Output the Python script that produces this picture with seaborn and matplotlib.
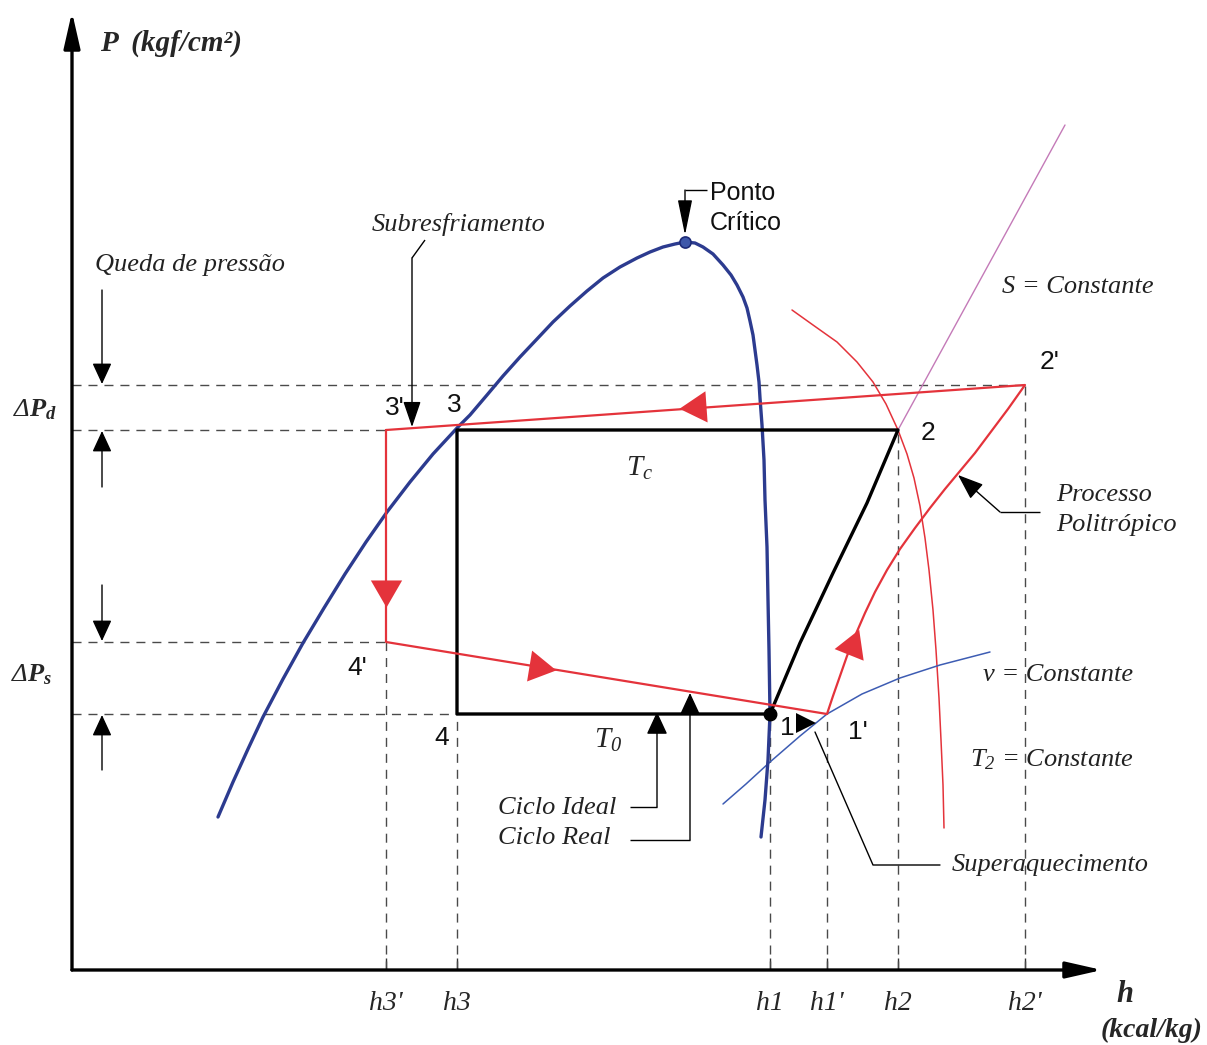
import numpy as np
import matplotlib
matplotlib.use("Agg")
import matplotlib.pyplot as plt
import seaborn as sns

# ---------------- data (h in kcal/kg scale units, P in kgf/cm2 scale units) ----------------
h_labels = ["h3'", "h3", "h1", "h1'", "h2", "h2'"]
h_ticks = [314, 385, 698, 755, 826, 953]

P_discharge_real = 585   # 2'
P_condensing = 540       # 3, 2, 3'
P_suction_real = 328     # 4'
P_evaporating = 256      # 4, 1

# saturation dome (liquid branch -> critical point -> vapour branch)
dome_h = [146, 161, 176, 191, 211, 231, 252, 273, 294, 315, 338, 361, 386, 398, 415,
          431, 448, 465, 481, 498, 515, 531, 548, 565, 578, 591, 603, 613,
          623, 631, 641, 651, 659, 665, 671, 675, 678, 681, 683, 685, 687, 688, 690,
          692, 693, 695, 696, 697, 698, 696, 693, 689]
dome_P = [153, 188, 221, 253, 291, 327, 362, 396, 428, 458, 488, 516, 543, 555, 575,
          594, 613, 631, 648, 664, 679, 692, 703, 712, 718, 723, 726, 728,
          727, 723, 716, 705, 695, 685, 673, 662, 649, 635, 620, 605, 588, 572, 545,
          510, 470, 423, 370, 320, 256, 210, 170, 133]
critical_h, critical_P = 613, 728

# ideal cycle 1 -> 4 -> 3 -> 2 -> 1
ideal_h = [698, 385, 385, 826, 795, 761, 728, 698]
ideal_P = [256, 256, 540, 540, 467, 397, 327, 256]

# real cycle 3' -> 4' -> 1' -> 2' -> 3'
real_h = [314, 314, 755, 761, 768, 775, 783, 793, 803, 815, 828, 843, 858, 873, 888,
          903, 918, 936, 953, 314]
real_P = [540, 328, 256, 274, 294, 314, 334, 357, 378, 400, 421, 442, 462, 481, 499,
          517, 537, 561, 585, 540]

# flow-direction arrows sitting on the real cycle
flow_h = [625, 314, 466, 780]
flow_P = [563, 381, 303, 324]

# constant-property lines
s_const_h = [993, 826]
s_const_P = [845, 540]
v_const_h = [651, 674, 698, 728, 755, 790, 828, 868, 918]
v_const_P = [166, 186, 208, 234, 256, 276, 292, 305, 318]
t2_const_h = [720, 741, 765, 785, 801, 814, 826, 835, 842, 848, 853, 857, 861, 864,
              867, 869, 871, 872]
t2_const_P = [660, 645, 628, 608, 588, 566, 540, 516, 492, 464, 432, 400, 360, 320,
              272, 230, 185, 142]

# ---------------- styling ----------------
sns.set_theme(style="white")
plt.rcParams["font.family"] = ["Liberation Serif", "DejaVu Serif"]
plt.rcParams["mathtext.fontset"] = "custom"
plt.rcParams["mathtext.rm"] = "Liberation Serif:italic"
plt.rcParams["mathtext.it"] = "Liberation Serif:italic"
plt.rcParams["mathtext.bf"] = "Liberation Serif:italic:bold"

BLUE = "#2c3b8f"
BLUE_THIN = "#3d5cb3"
RED = "#e4333b"
PURPLE = "#c47ab8"
GUIDE = "#4a4a4a"
SERIF = ["Liberation Serif", "DejaVu Serif"]
SANS = ["Liberation Sans", "DejaVu Sans"]

fig = plt.figure(figsize=(12.07, 10.45), dpi=100)
ax = fig.add_axes([0, 0, 1, 1])
ax.set_xlim(-72, 1135)
ax.set_ylim(-75, 970)
for sp in ax.spines.values():
    sp.set_visible(False)
ax.spines["bottom"].set_position(("data", 0))

# h axis ticks and labels
ax.set_xticks(h_ticks, h_labels)
ax.tick_params(axis="x", direction="in", length=9, width=1, color="#333333",
               pad=15, labelsize=20, bottom=True)
for lbl in ax.get_xticklabels():
    lbl.set_fontstyle("italic")
    lbl.set_fontfamily(SERIF)
ax.set_yticks([])

# axes with arrow heads
ax.annotate("", xy=(0, 958), xytext=(0, 0),
            arrowprops=dict(arrowstyle="-|>,head_length=2.2,head_width=0.5",
                            mutation_scale=10, lw=2.4, color="black",
                            shrinkA=0, shrinkB=0))
ax.annotate("", xy=(1030, 0), xytext=(0, 0),
            arrowprops=dict(arrowstyle="-|>,head_length=2.2,head_width=0.5",
                            mutation_scale=10, lw=2.4, color="black",
                            shrinkA=0, shrinkB=0))

# dashed guide lines
dash = (0, (6.5, 5))
guide_levels = [P_discharge_real, P_condensing, P_suction_real, P_evaporating]
guide_ends = [h_ticks[5], h_ticks[0], h_ticks[0], h_ticks[1]]
ax.hlines(guide_levels, 0, guide_ends, colors=GUIDE, lw=1.0, linestyles=dash, zorder=1)
guide_tops = [P_suction_real, P_evaporating, P_evaporating, P_evaporating,
              P_condensing, P_discharge_real]
ax.vlines(h_ticks, 0, guide_tops, colors=GUIDE, lw=1.0, linestyles=dash, zorder=1)

# constant-property lines
sns.lineplot(x=s_const_h, y=s_const_P, sort=False, estimator=None, color=PURPLE,
             lw=1.0, ax=ax, zorder=2)
sns.lineplot(x=t2_const_h, y=t2_const_P, sort=False, estimator=None, color=RED,
             lw=1.1, ax=ax, zorder=2)
sns.lineplot(x=v_const_h, y=v_const_P, sort=False, estimator=None, color=BLUE_THIN,
             lw=1.1, ax=ax, zorder=2)

# saturation dome
sns.lineplot(x=dome_h, y=dome_P, sort=False, estimator=None, color=BLUE,
             lw=2.4, ax=ax, zorder=3)

# cycles
sns.lineplot(x=ideal_h, y=ideal_P, sort=False, estimator=None, color="black",
             lw=2.4, ax=ax, zorder=4)
sns.lineplot(x=real_h, y=real_P, sort=False, estimator=None, color=RED,
             lw=1.6, ax=ax, zorder=5)

# flow arrows: oriented along the nearest segment of the real cycle
rh = np.array(real_h, float)
rP = np.array(real_P, float)
for fh, fP in zip(flow_h, flow_P):
    best, direc = None, None
    for i in range(len(rh) - 1):
        a = np.array([rh[i], rP[i]])
        b = np.array([rh[i + 1], rP[i + 1]])
        d = b - a
        t = np.clip(np.dot([fh, fP] - a, d) / np.dot(d, d), 0, 1)
        dist = np.hypot(*(a + t * d - [fh, fP]))
        if best is None or dist < best:
            best, direc = dist, d
    ang = np.degrees(np.arctan2(direc[1], direc[0]))
    ax.plot(fh, fP, marker=(3, 0, ang - 90), markersize=26, color=RED,
            markeredgewidth=0, zorder=6)

# state markers
ax.plot(critical_h, critical_P, "o", markersize=8, markerfacecolor="#3e58aa",
        markeredgecolor="#1d2b78", markeredgewidth=1.2, zorder=7)
ax.plot(ideal_h[0], ideal_P[0], "o", markersize=9, color="black", zorder=7)


# leader lines with arrow heads
def leader(pts, head_len, head_w, lw=1.0):
    xs, ys = zip(*pts)
    if len(pts) > 2:
        ax.plot(xs[:-1], ys[:-1], color="black", lw=lw, zorder=8,
                solid_capstyle="butt")
    ax.annotate("", xy=pts[-1], xytext=pts[-2],
                arrowprops=dict(arrowstyle=f"-|>,head_length={head_len},head_width={head_w}",
                                mutation_scale=10, lw=lw, color="black",
                                shrinkA=0, shrinkB=0), zorder=8)


leader([(635, 780), (613, 780), (613, 735)], 2.2, 0.45)
leader([(353, 730), (340, 712), (340, 543)], 1.6, 0.55)
leader([(30, 680), (30, 586)], 1.3, 0.6)
leader([(30, 483), (30, 539)], 1.3, 0.6)
leader([(30, 385), (30, 329)], 1.3, 0.6)
leader([(30, 200), (30, 255)], 1.3, 0.6)
leader([(558, 163), (585, 163), (585, 258)], 1.4, 0.65)
leader([(558, 130), (618, 130), (618, 277)], 1.4, 0.65)
leader([(968, 458), (928, 458), (886, 495)], 1.6, 0.6)
ax.plot([868, 801, 743], [105, 105, 238], color="black", lw=1.0, zorder=8)
ax.plot(734, 247, marker=">", markersize=14, color="black", markeredgewidth=0, zorder=8)

# text
it = dict(family=SERIF, style="italic", fontsize=19, color="#222222")
sans = dict(family=SANS, fontsize=18, color="#111111")
ax.text(28, 927, "P  (kgf/cm²)", family=SERIF, style="italic", weight="bold",
        fontsize=21, va="center", ha="left")
ax.text(23, 705, "Queda de pressão", va="center", ha="left", **it)
ax.text(300, 745, "Subresfriamento", va="center", ha="left", **it)
ax.text(638, 777, "Ponto", va="center", ha="left", **sans)
ax.text(638, 747, "Crítico", va="center", ha="left", **sans)
ax.text(930, 683, "S = Constante", va="center", ha="left", **it)
ax.text(984, 475, "Processo", va="center", ha="left", **it)
ax.text(984, 445, "Politrópico", va="center", ha="left", **it)
ax.text(911, 295, "v = Constante", va="center", ha="left", **it)
ax.text(898, 210, r"$T_{2}$ = Constante", va="center", ha="left", **it)
ax.text(880, 105, "Superaquecimento", va="center", ha="left", **it)
ax.text(426, 162, "Ciclo Ideal", va="center", ha="left", **it)
ax.text(426, 132, "Ciclo Real", va="center", ha="left", **it)
ax.text(568, 502, r"$T_{c}$", va="center", ha="center", family=SERIF, fontsize=21)
ax.text(536, 230, r"$T_{0}$", va="center", ha="center", family=SERIF, fontsize=21)
ax.text(-37, 560, r"$\Delta\mathbf{P}_{\mathbf{d}}$", va="center", ha="center",
        family=SERIF, fontsize=19)
ax.text(-40, 295, r"$\Delta\mathbf{P}_{\mathbf{s}}$", va="center", ha="center",
        family=SERIF, fontsize=19)

state_labels = ["3'", "3", "2", "2'", "4'", "4", "1", "1'"]
state_h = [323, 382, 856, 978, 285, 370, 715, 786]
state_P = [562, 565, 537, 608, 302, 232, 242, 238]
for s, x, y in zip(state_labels, state_h, state_P):
    ax.text(x, y, s, va="center", ha="center", family=SANS, fontsize=19, color="#111111")

ax.text(1053, -25, "h", family=SERIF, style="italic", weight="bold", fontsize=22,
        va="center", ha="center")
ax.text(1131, -60, "(kcal/kg)", family=SERIF, style="italic", weight="bold",
        fontsize=20, va="center", ha="right")

fig.savefig("out.png", dpi=100)
